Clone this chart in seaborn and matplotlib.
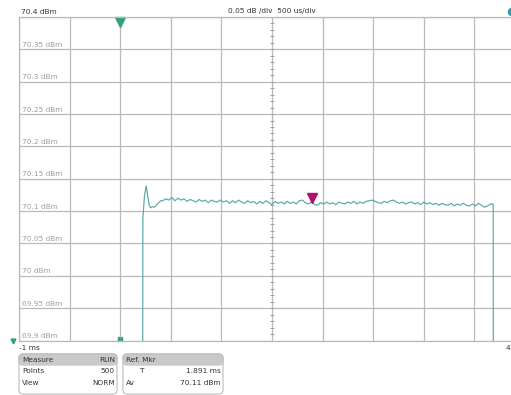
"""
plot.py
Power-vs-time trace (signal analyser style) redrawn with seaborn.
"""

import matplotlib
matplotlib.use("Agg")
import matplotlib.pyplot as plt
import matplotlib.transforms as mtransforms
from matplotlib.patches import FancyBboxPatch, Rectangle, Circle
import numpy as np
import pandas as pd
import seaborn as sns

# ---------------------------------------------------------------------------
# Data
# ---------------------------------------------------------------------------
X_MIN, X_MAX = -1.0, 4.0          # ms
Y_MIN, Y_MAX = 69.9, 70.4         # dBm
X_GRID = [-1.0, -0.5, 0.0, 0.5, 1.0, 1.5, 2.0, 2.5, 3.0, 3.5, 4.0]
Y_GRID = [70.4, 70.35, 70.3, 70.25, 70.2, 70.15, 70.1, 70.05, 70.0, 69.95, 69.9]
Y_LABELS = ["70.4 dBm", "70.35 dBm", "70.3 dBm", "70.25 dBm", "70.2 dBm",
            "70.15 dBm", "70.1 dBm", "70.05 dBm", "70 dBm", "69.95 dBm",
            "69.9 dBm"]

# burst edge + overshoot
rise_t = [0.222, 0.224, 0.240, 0.257, 0.272, 0.287, 0.300, 0.320, 0.340,
          0.360, 0.380, 0.400]
rise_v = [69.80, 70.088, 70.124, 70.139, 70.123, 70.109, 70.105, 70.107,
          70.106, 70.110, 70.113, 70.116]

# flat top of the burst
flat_t = [0.42, 0.45, 0.48, 0.51, 0.54, 0.57, 0.60, 0.63, 0.66, 0.69,
          0.72, 0.75, 0.78, 0.81, 0.84, 0.87, 0.90, 0.93, 0.96, 0.99,
          1.02, 1.05, 1.08, 1.11, 1.14, 1.17, 1.20, 1.23, 1.26, 1.29,
          1.32, 1.35, 1.38, 1.41, 1.44, 1.47, 1.50, 1.53, 1.56, 1.59,
          1.62, 1.65, 1.68, 1.71, 1.74, 1.77, 1.80, 1.83, 1.86, 1.89,
          1.92, 1.95, 1.98, 2.01, 2.04, 2.07, 2.10, 2.13, 2.16, 2.19,
          2.22, 2.25, 2.28, 2.31, 2.34, 2.37, 2.40, 2.43, 2.46, 2.49,
          2.52, 2.55, 2.58, 2.61, 2.64, 2.67, 2.70, 2.73, 2.76, 2.79,
          2.82, 2.85, 2.88, 2.91, 2.94, 2.97, 3.00, 3.03, 3.06, 3.09,
          3.12, 3.15, 3.18, 3.21, 3.24, 3.27, 3.30, 3.33, 3.36, 3.39,
          3.42, 3.45, 3.48, 3.51, 3.54, 3.57, 3.60, 3.63, 3.66]
flat_v = [70.116, 70.119, 70.117, 70.121, 70.116, 70.120, 70.117, 70.119, 70.115, 70.118,
          70.116, 70.114, 70.118, 70.115, 70.117, 70.113, 70.117, 70.115, 70.114, 70.117,
          70.114, 70.116, 70.112, 70.116, 70.113, 70.117, 70.114, 70.112, 70.116, 70.113,
          70.115, 70.111, 70.115, 70.112, 70.116, 70.113, 70.110, 70.115, 70.112, 70.114,
          70.111, 70.115, 70.112, 70.114, 70.111, 70.116, 70.117, 70.113, 70.111, 70.114,
          70.110, 70.109, 70.113, 70.111, 70.114, 70.111, 70.113, 70.110, 70.114, 70.112,
          70.111, 70.114, 70.112, 70.115, 70.111, 70.114, 70.112, 70.115, 70.116, 70.117,
          70.115, 70.113, 70.112, 70.115, 70.113, 70.116, 70.117, 70.114, 70.112, 70.114,
          70.111, 70.113, 70.114, 70.111, 70.113, 70.110, 70.114, 70.111, 70.113, 70.110,
          70.112, 70.109, 70.112, 70.110, 70.109, 70.112, 70.108, 70.111, 70.109, 70.112,
          70.109, 70.108, 70.111, 70.108, 70.112, 70.109, 70.106, 70.108, 70.111]

# falling edge
fall_t = [3.686, 3.687]
fall_v = [70.111, 69.80]

MKR_T = 1.891        # ms
MKR_AV = 70.11       # dBm

trace = pd.DataFrame({"time_ms": rise_t + flat_t + fall_t,
                      "level_dbm": rise_v + flat_v + fall_v})

# ---------------------------------------------------------------------------
# Style
# ---------------------------------------------------------------------------
sns.set_style("white")
plt.rcParams["font.family"] = ["DejaVu Sans"]

GRID = "#bababa"
TRACE = "#5aa8a6"
GREEN = "#34a37a"
MAGENTA = "#b0106e"
DARK = "#333333"
LABEL = "#9e9e9e"
FS = 5.3

W, H = 511, 395
fig = plt.figure(figsize=(W / 100, H / 100), dpi=100)
fig.patch.set_facecolor("white")

# plot area in pixels: x 19..525 (runs off the right edge), y 17..340.5
left, top, right, bottom = 19, 17, 525, 340.5
ax = fig.add_axes([left / W, (H - bottom) / H, (right - left) / W, (bottom - top) / H])

sns.lineplot(data=trace, x="time_ms", y="level_dbm", ax=ax, color=TRACE,
             linewidth=0.85, sort=False, estimator=None)

ax.set_xlim(X_MIN, X_MAX)
ax.set_ylim(Y_MIN, Y_MAX)
ax.set_xticks(X_GRID)
ax.set_yticks(Y_GRID)
ax.grid(True, color=GRID, linewidth=0.9)
ax.tick_params(length=0, labelleft=False, labelbottom=False)
ax.set_xlabel("")
ax.set_ylabel("")
for sp in ax.spines.values():
    sp.set_color(GRID)
    sp.set_linewidth(0.9)

# minor ticks on the vertical centre line (0.01 dB steps)
x_mid = (X_MIN + X_MAX) / 2
minor_y = np.arange(Y_MIN, Y_MAX + 1e-9, 0.01)
ax.plot(np.full(len(minor_y), x_mid), minor_y, ls="none", marker="_",
        ms=3, mew=0.7, color="#a0a0a0")

# y labels sit inside the grid, just above each line
lab_tr = mtransforms.offset_copy(ax.get_yaxis_transform(), fig=fig, x=3, y=1.5,
                                 units="dots")
for lvl, txt in zip(Y_GRID[1:], Y_LABELS[1:]):
    ax.text(0.0, lvl, txt, transform=lab_tr, ha="left", va="bottom",
            fontsize=FS, color=LABEL)
top_tr = mtransforms.offset_copy(ax.get_yaxis_transform(), fig=fig, x=2, y=2.5,
                                 units="dots")
ax.text(0.0, Y_GRID[0], Y_LABELS[0], transform=top_tr, ha="left", va="bottom",
        fontsize=FS, color=DARK, clip_on=False)

# scale caption
ax.text(x_mid, Y_MAX, "0.05 dB /div  500 us/div",
        transform=mtransforms.offset_copy(ax.transData, fig=fig, y=2.5, units="dots"),
        ha="center", va="bottom", fontsize=FS, color=DARK, clip_on=False)

# reference marker (magenta) just above the trace
mk_tr = mtransforms.offset_copy(ax.transData, fig=fig, y=7, units="dots")
ax.plot([MKR_T], [MKR_AV], transform=mk_tr, marker="v", ms=7, color=MAGENTA,
        mec=MAGENTA, ls="none")

# trigger marker at t = 0 on top edge and bottom edge
trig_tr = mtransforms.offset_copy(ax.get_xaxis_transform(), fig=fig, y=-5,
                                  units="dots")
ax.plot([0.0], [1.0], transform=trig_tr, marker="v", ms=6.5, color=GREEN,
        ls="none", clip_on=False)
bot_tr = mtransforms.offset_copy(ax.get_xaxis_transform(), fig=fig, y=2,
                                 units="dots")
ax.plot([0.0], [0.0], transform=bot_tr, marker=r"$\mathsf{H}$", ms=3.5,
        color=GREEN, ls="none", clip_on=False)

# ---------------------------------------------------------------------------
# Overlay in pixel coordinates: reference level arrow, time labels, boxes
# ---------------------------------------------------------------------------
ov = fig.add_axes([0, 0, 1, 1], zorder=5)
ov.set_xlim(0, W)
ov.set_ylim(H, 0)
ov.axis("off")

ov.plot([13], [341], marker="v", ms=3.5, color=GREEN, ls="none")
ov.add_patch(Circle((512, 12), 3.6, color="#2a9fb0"))
ov.text(19, 348, "-1 ms", fontsize=FS, color=DARK, ha="left", va="center")
ov.text(506, 348, "4 ms", fontsize=FS, color=DARK, ha="left", va="center")

boxes = [
    (19, 117, "Measure", "RUN", [("Points", None, "500"), ("View", None, "NORM")]),
    (123, 223, "Ref. Mkr", "", [("", "T", "1.891 ms"), ("Av", None, "70.11 dBm")]),
]
for x0, x1, head_l, head_r, rows in boxes:
    ov.add_patch(FancyBboxPatch((x0, 354), x1 - x0, 40,
                                boxstyle="round,pad=0,rounding_size=4",
                                fc="white", ec="#bcbcbc", lw=0.8))
    ov.add_patch(FancyBboxPatch((x0, 354), x1 - x0, 11,
                                boxstyle="round,pad=0,rounding_size=4",
                                fc="#c9c9c9", ec="#bcbcbc", lw=0.8))
    ov.add_patch(Rectangle((x0 + 0.4, 360), x1 - x0 - 0.8, 5, fc="#c9c9c9",
                           ec="none"))
    ov.text(x0 + 3, 359.8, head_l, fontsize=FS, color=DARK, va="center")
    ov.text(x1 - 2, 359.8, head_r, fontsize=FS, color=DARK, va="center", ha="right")
    for i, (lab, mid, val) in enumerate(rows):
        yy = 371 + i * 12
        ov.text(x0 + 3, yy, lab, fontsize=FS, color=DARK, va="center")
        if mid:
            ov.text(x0 + 18, yy, mid, fontsize=FS, color=DARK, va="center",
                    ha="center")
        ov.text(x1 - 2, yy, val, fontsize=FS, color=DARK, va="center", ha="right")

fig.savefig("out.png", dpi=100)
